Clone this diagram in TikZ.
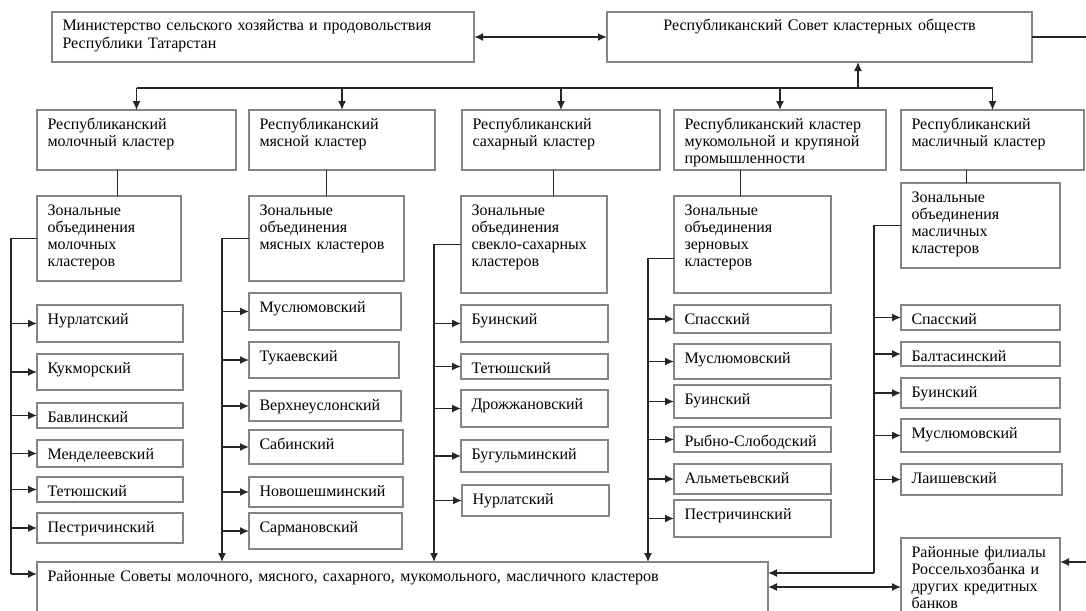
\documentclass[tikz,border=0pt]{standalone}
\usepackage{fontspec}
\setmainfont{Liberation Serif}
\usetikzlibrary{arrows.meta}
\definecolor{boxgray}{HTML}{858585}
\tikzset{
  box/.style={draw=boxgray, line width=1.4pt, anchor=north west, align=left,
    inner xsep=10.5pt, inner ysep=0pt, outer sep=0pt, text height=19pt},
  cell/.style 2 args={box, text width=#1-21, text depth=#2-19},
  link/.style={line width=1.4pt, draw=black!85},
  >={Latex[length=9pt,width=8pt]}
}

\begin{document}
\begin{tikzpicture}[x=1pt, y=-1pt, font=\fontsize{16}{17.3}\selectfont]
\useasboundingbox (0,0) rectangle (1086,610);

% top level
\path (52,12) node[cell={422}{50}] (min) {Министерство сельского хозяйства и продовольствия\\Республики Татарстан};
\path (607,12) node[cell={425}{50}, align=center] (rsk) {Республиканский Совет кластерных обществ};

% republican clusters
\path (37,110) node[cell={199}{60}] (cl1) {Республиканский\\молочный кластер};
\path (249,110) node[cell={186}{60}] (cl2) {Республиканский\\мясной кластер};
\path (462,110) node[cell={198}{60}] (cl3) {Республиканский\\сахарный кластер};
\path (674,110) node[cell={212}{60}] (cl4) {Республиканский кластер\\мукомольной и крупяной\\промышленности};
\path (901,110) node[cell={183}{60}] (cl5) {Республиканский\\масличный кластер};

% zonal unions
\path (37,196) node[cell={144}{85}] (zo1) {Зональные\\объединения\\молочных\\кластеров};
\path (249,196) node[cell={155}{85}] (zo2) {Зональные\\объединения\\мясных кластеров};
\path (461,196) node[cell={146}{97}] (zo3) {Зональные\\объединения\\свекло-сахарных\\кластеров};
\path (674,196) node[cell={157}{97}] (zo4) {Зональные\\объединения\\зерновых\\кластеров};
\path (901,183) node[cell={159}{85}] (zo5) {Зональные\\объединения\\масличных\\кластеров};

% districts, dairy
\path (37,305) node[cell={146}{37}] (nu1) {Нурлатский};
\path (37,354) node[cell={146}{36}] (ku1) {Кукморский};
\path (37,403) node[cell={146}{25}] (ba1) {Бавлинский};
\path (37,440) node[cell={146}{27}] (me1) {Менделеевский};
\path (37,477) node[cell={146}{25}] (te1) {Тетюшский};
\path (37,513) node[cell={146}{30}] (pe1) {Пестричинский};

% districts, meat
\path (249,293) node[cell={152}{37}] (mu2) {Муслюмовский};
\path (249,342) node[cell={150}{36}] (tu2) {Тукаевский};
\path (249,391) node[cell={152}{30}] (ve2) {Верхнеуслонский};
\path (249,430) node[cell={154}{34}] (sa2) {Сабинский};
\path (249,477) node[cell={154}{30}] (no2) {Новошешминский};
\path (249,513) node[cell={153}{36}] (sr2) {Сармановский};

% districts, sugar
\path (461,305) node[cell={147}{37}] (bu3) {Буинский};
\path (461,354) node[cell={147}{25}] (te3) {Тетюшский};
\path (461,390) node[cell={147}{37}] (dr3) {Дрожжановский};
\path (461,440) node[cell={147}{32}] (bg3) {Бугульминский};
\path (462,485) node[cell={147}{31}] (nu3) {Нурлатский};

% districts, grain
\path (674,305) node[cell={157}{28}] (sp4) {Спасский};
\path (674,344) node[cell={157}{35}] (mu4) {Муслюмовский};
\path (674,385) node[cell={157}{33}] (bu4) {Буинский};
\path (674,427) node[cell={157}{25}] (ry4) {Рыбно-Слободский};
\path (674,464) node[cell={157}{30}] (al4) {Альметьевский};
\path (674,500) node[cell={157}{37}] (pe4) {Пестричинский};

% districts, oil
\path (901,305) node[cell={159}{25}] (sp5) {Спасский};
\path (901,342) node[cell={159}{24}] (bl5) {Балтасинский};
\path (901,378) node[cell={159}{30}] (bu5) {Буинский};
\path (901,419) node[cell={159}{33}] (mu5) {Муслюмовский};
\path (901,464) node[cell={161}{31}] (la5) {Лаишевский};

% bottom
\path (37,562) node[cell={731}{50}] (rs) {Районные Советы молочного, мясного, сахарного, мукомольного, масличного кластеров};
\path (901,538) node[cell={159}{98}] (rf) {Районные филиалы\\Россельхозбанка и\\других кредитных\\банков};

\coordinate (hub) at (858,88);
\coordinate (t1) at (11,574);
\coordinate (t2) at (222,562);
\coordinate (t3) at (434,562);
\coordinate (t4) at (648,562);
\coordinate (t5) at (874,573);
\coordinate (e1) at (1086,37);
\coordinate (e2) at (1086,562);

% top links
\draw[link, <->, line width=2pt] (min.east) -- (rsk.west);
\draw[link] (rsk.east) -- (e1);
\draw[link, ->] (hub) -- (hub |- rsk.south);
\draw[link] (cl1.north |- hub) -- (cl5.north |- hub);
\draw[link, ->] (cl1.north |- hub) -- (cl1.north);
\draw[link, ->] (cl2.north |- hub) -- (cl2.north);
\draw[link, ->] (cl3.north |- hub) -- (cl3.north);
\draw[link, ->] (cl4.north |- hub) -- (cl4.north);
\draw[link, ->] (cl5.north |- hub) -- (cl5.north);

% cluster to zonal
\draw[link] (zo1.79) -- (zo1.79 |- cl1.south);
\draw[link] (zo2.north) -- (zo2.north |- cl2.south);
\draw[link] (zo3.68) -- (zo3.68 |- cl3.south);
\draw[link] (zo4.104) -- (zo4.104 |- cl4.south);
\draw[link] (zo5.108) -- (zo5.108 |- cl5.south);

% dairy trunk
\draw[link] (zo1.west) -| (t1);
\draw[link, ->] (t1) -- (t1 -| rs.west);
\draw[link, ->] (t1 |- nu1.west) -- (nu1.west);
\draw[link, ->] (t1 |- ku1.west) -- (ku1.west);
\draw[link, ->] (t1 |- ba1.west) -- (ba1.west);
\draw[link, ->] (t1 |- me1.west) -- (me1.west);
\draw[link, ->] (t1 |- te1.west) -- (te1.west);
\draw[link, ->] (t1 |- pe1.west) -- (pe1.west);

% meat trunk
\draw[link, ->] (zo2.west) -| (t2);
\draw[link, ->] (t2 |- mu2.west) -- (mu2.west);
\draw[link, ->] (t2 |- tu2.west) -- (tu2.west);
\draw[link, ->] (t2 |- ve2.west) -- (ve2.west);
\draw[link, ->] (t2 |- sa2.west) -- (sa2.west);
\draw[link, ->] (t2 |- no2.west) -- (no2.west);
\draw[link, ->] (t2 |- sr2.west) -- (sr2.west);

% sugar trunk
\draw[link, ->] (zo3.west) -| (t3);
\draw[link, ->] (t3 |- bu3.west) -- (bu3.west);
\draw[link, ->] (t3 |- te3.west) -- (te3.west);
\draw[link, ->] (t3 |- dr3.west) -- (dr3.west);
\draw[link, ->] (t3 |- bg3.west) -- (bg3.west);
\draw[link, ->] (t3 |- nu3.west) -- (nu3.west);

% grain trunk
\draw[link, ->] (zo4.190) -| (t4);
\draw[link, ->] (t4 |- sp4.west) -- (sp4.west);
\draw[link, ->] (t4 |- mu4.west) -- (mu4.west);
\draw[link, ->] (t4 |- bu4.west) -- (bu4.west);
\draw[link, ->] (t4 |- ry4.west) -- (ry4.west);
\draw[link, ->] (t4 |- al4.west) -- (al4.west);
\draw[link, ->] (t4 |- pe4.west) -- (pe4.west);

% oil trunk
\draw[link] (zo5.west) -| (t5);
\draw[link, ->] (t5) -- (t5 -| rs.east);
\draw[link, ->] (t5 |- sp5.west) -- (sp5.west);
\draw[link, ->] (t5 |- bl5.west) -- (bl5.west);
\draw[link, ->] (t5 |- bu5.west) -- (bu5.west);
\draw[link, ->] (t5 |- mu5.west) -- (mu5.west);
\draw[link, ->] (t5 |- la5.west) -- (la5.west);

% banks
\draw[link, <->] (rs.east) -- (rf.west);
\draw[link, ->] (e2) -- (e2 -| rf.east);

\end{tikzpicture}
\end{document}
